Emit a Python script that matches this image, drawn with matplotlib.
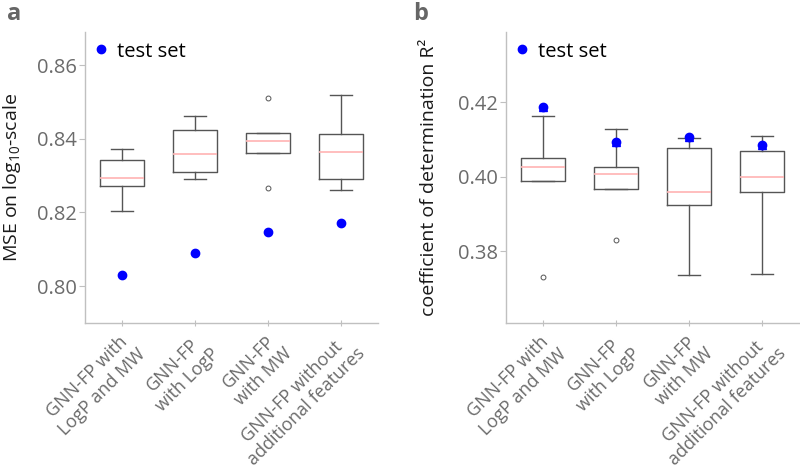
import matplotlib
matplotlib.use("Agg")
import matplotlib.pyplot as plt

plt.rcParams['font.family'] = ['Open Sans', 'DejaVu Sans']
plt.rcParams['mathtext.fontset'] = 'custom'
plt.rcParams['mathtext.rm'] = 'Open Sans'
plt.rcParams['mathtext.it'] = 'Open Sans'

categories = ["GNN-FP with\nLogP and MW", "GNN-FP\nwith LogP", "GNN-FP\nwith MW",
              "GNN-FP without\nadditional features"]

# Panel a: MSE on log10-scale
mse_whislo = [0.8203, 0.8290, 0.8362, 0.8260]
mse_q1 = [0.8272, 0.8310, 0.8362, 0.8291]
mse_med = [0.8293, 0.8358, 0.8395, 0.8365]
mse_q3 = [0.8343, 0.8424, 0.8415, 0.8413]
mse_whishi = [0.8372, 0.8461, 0.8415, 0.8520]
mse_fliers = [[], [], [0.8510, 0.8267], []]
mse_test = [0.8029, 0.8090, 0.8146, 0.8171]

# Panel b: coefficient of determination R²
r2_whislo = [0.3988, 0.3966, 0.3736, 0.3739]
r2_q1 = [0.3988, 0.3966, 0.3924, 0.3958]
r2_med = [0.4027, 0.4007, 0.3958, 0.3999]
r2_q3 = [0.4049, 0.4025, 0.4077, 0.4069]
r2_whishi = [0.4162, 0.4127, 0.4104, 0.4108]
r2_fliers = [[0.3731], [0.3830], [], []]
r2_test = [0.4187, 0.4093, 0.4106, 0.4085]

W, H = 800, 471
fig = plt.figure(figsize=(W / 100, H / 100), dpi=100)

gray_txt = '#6b6b6b'
spine_c = '#c0c0c0'
box_c = '#555555'
med_c = '#ffb3b3'


def make_stats(lo, q1, med, q3, hi, fl):
    return [dict(whislo=a, q1=b, med=c, q3=d, whishi=e, fliers=f)
            for a, b, c, d, e, f in zip(lo, q1, med, q3, hi, fl)]


def draw(ax, stats, test, ylabel, ylim, yticks, marker_style, labelpad):
    pos = list(range(1, len(stats) + 1))
    ax.bxp(stats, positions=pos, widths=0.6,
           boxprops=dict(color=box_c, linewidth=1.0),
           whiskerprops=dict(color=box_c, linewidth=1.0),
           capprops=dict(color=box_c, linewidth=1.0),
           medianprops=dict(color=med_c, linewidth=1.2),
           flierprops=dict(marker='o', markersize=3.5, markerfacecolor='none',
                           markeredgecolor='#555555', markeredgewidth=0.7))
    ax.plot(pos, test, 'o', color='blue', markersize=6, linestyle='none',
            label='test set', zorder=5)
    if marker_style != 'circle':
        ax.plot(pos, test, '^', color='blue', markersize=5.5, linestyle='none',
                zorder=5)
    ax.set_xlim(0.5, 4.5)
    ax.set_ylim(*ylim)
    ax.set_yticks(yticks)
    ax.set_yticklabels([f"{t:.2f}" for t in yticks])
    ax.set_xticks(pos)
    ax.set_xticklabels(categories, rotation=45, ha='right', rotation_mode='anchor',
                       multialignment='center', fontsize=13, color=gray_txt)
    for lab in ax.get_yticklabels():
        lab.set_fontsize(14.5)
    ax.set_ylabel(ylabel, fontsize=14, color='#1a1a1a', labelpad=labelpad)
    for s in ['top', 'right']:
        ax.spines[s].set_visible(False)
    for s in ['left', 'bottom']:
        ax.spines[s].set_color(spine_c)
        ax.spines[s].set_linewidth(1.0)
    ax.tick_params(axis='y', colors=spine_c, length=4, width=0.8, pad=2)
    ax.tick_params(axis='x', colors=spine_c, length=4, width=0.8, direction='inout', pad=3)
    for lab in ax.get_yticklabels() + ax.get_xticklabels():
        lab.set_color(gray_txt)
    ax.legend(loc='upper left', frameon=False, fontsize=14.5, handletextpad=0.1,
              borderaxespad=0.0, handlelength=1.4, bbox_to_anchor=(-0.02, 0.995))
    return ax


axL = fig.add_axes([85 / W, (H - 323) / H, 293 / W, 291 / H])
draw(axL, make_stats(mse_whislo, mse_q1, mse_med, mse_q3, mse_whishi, mse_fliers),
     mse_test, r'MSE on log$_{10}$-scale', (0.7900, 0.8690), [0.80, 0.82, 0.84, 0.86],
     'circle', 10)

axR = fig.add_axes([506 / W, (H - 323) / H, 293 / W, 291 / H])
draw(axR, make_stats(r2_whislo, r2_q1, r2_med, r2_q3, r2_whishi, r2_fliers),
     r2_test, 'coefficient of determination R²', (0.3607, 0.4388), [0.38, 0.40, 0.42],
     'drop', 14)

fig.text(7 / W, 1 - 2 / H, 'a', fontsize=17, fontweight='bold', color='#666666',
         va='top', ha='left')
fig.text(413 / W, 1 - 2 / H, 'b', fontsize=17, fontweight='bold', color='#666666',
         va='top', ha='left')

fig.savefig('out.png', dpi=100)
